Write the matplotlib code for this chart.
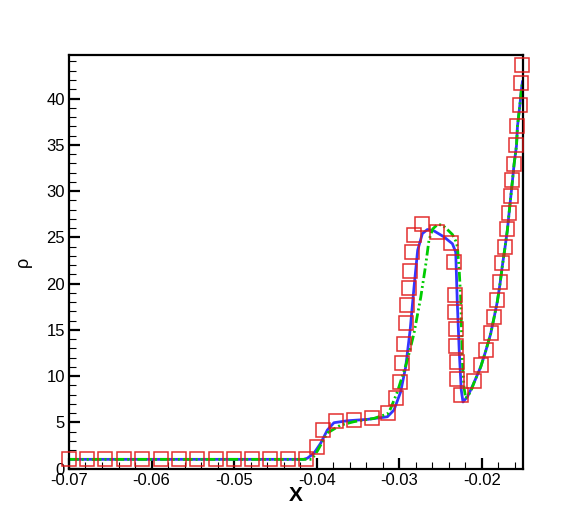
import matplotlib
matplotlib.use("Agg")
import matplotlib.pyplot as plt
from matplotlib.ticker import MultipleLocator

plt.rcParams['font.family'] = ['Liberation Sans', 'DejaVu Sans']
plt.rcParams['axes.unicode_minus'] = False
plt.rcParams['lines.scale_dashes'] = False

# reference data (squares)
ref_x = [-0.0700, -0.06779, -0.06558, -0.06336, -0.06113, -0.05891, -0.05669,
         -0.05446, -0.05224, -0.05006, -0.04788, -0.04570, -0.04348, -0.04133,
         -0.03992, -0.03924, -0.03770, -0.03548, -0.03333, -0.03131, -0.03042,
         -0.02994, -0.02961, -0.02942, -0.02921, -0.02901, -0.02885, -0.02864,
         -0.02848, -0.02821, -0.02719, -0.02537, -0.02367, -0.02336, -0.02327,
         -0.02319, -0.02315, -0.02307, -0.02303, -0.02295, -0.02255, -0.02093,
         -0.02012, -0.01952, -0.01891, -0.01851, -0.01810, -0.01778, -0.01749,
         -0.01718, -0.01689, -0.01669, -0.01648, -0.01628, -0.01608, -0.01579,
         -0.01567, -0.01539, -0.01519, -0.01507]
ref_rho = [1.0, 1.0, 1.0, 1.0, 1.0, 1.0, 1.0,
           1.0, 1.0, 1.0, 1.0, 1.0, 1.0, 1.0,
           2.37, 4.17, 5.14, 5.25, 5.43, 6.04, 7.66,
           9.38, 11.44, 13.42, 15.76, 17.64, 19.50, 21.37,
           23.36, 25.23, 26.49, 25.52, 24.33, 22.34, 18.75,
           16.94, 15.08, 13.27, 11.48, 9.71, 7.95, 9.49,
           11.19, 12.81, 14.68, 16.40, 18.21, 20.12, 22.17,
           23.96, 25.87, 27.63, 29.44, 31.17, 32.97, 34.95,
           37.00, 39.27, 41.72, 43.58]

# solid blue solution
blue_x = [-0.0700, -0.04158, -0.04113, -0.04033, -0.03952, -0.03870, -0.03790,
          -0.03628, -0.03385, -0.03143, -0.03063, -0.02982, -0.02921, -0.02867,
          -0.02818, -0.02776, -0.02719, -0.02658, -0.02578, -0.02457, -0.02355,
          -0.02315, -0.02297, -0.02273, -0.02248, -0.02227, -0.02173, -0.02093,
          -0.02012, -0.01952, -0.01891, -0.01851, -0.01810, -0.01778, -0.01749,
          -0.01718, -0.01689, -0.01669, -0.01648, -0.01628, -0.01608, -0.01579,
          -0.01567, -0.01539, -0.01519, -0.01507]
blue_rho = [1.0, 1.0, 1.12, 1.65, 2.73, 4.17, 4.96,
            5.17, 5.32, 5.6, 6.33, 8.3, 11.0, 15.0,
            19.8, 23.6, 25.4, 25.84, 25.69, 25.04, 24.3,
            23.4, 18.2, 12.8, 8.5, 7.2, 7.76, 9.3,
            11.0, 12.7, 14.6, 16.3, 18.1, 20.0, 22.0,
            23.9, 25.8, 27.6, 29.4, 31.1, 32.9, 34.9,
            37.0, 39.2, 41.0, 41.8]

# dash-dot-dot green solution
green_x = [-0.0700, -0.0406, -0.03991, -0.03870, -0.03709, -0.03548, -0.03305,
           -0.03143, -0.03103, -0.03022, -0.02901, -0.02821, -0.02739, -0.02679,
           -0.02639, -0.02594, -0.02533, -0.02473, -0.02412, -0.02355, -0.02315,
           -0.02295, -0.02275, -0.02255, -0.02246, -0.02234, -0.02215, -0.02194,
           -0.02133, -0.02093, -0.02012, -0.01952, -0.01891, -0.01851, -0.01810,
           -0.01778, -0.01749, -0.01718, -0.01689, -0.01669, -0.01648, -0.01628,
           -0.01608, -0.01579, -0.01567, -0.01539, -0.01519, -0.01507]
green_rho = [1.0, 1.0, 1.9, 3.85, 4.7, 5.07, 5.43,
             5.9, 6.5, 8.3, 11.7, 14.6, 18.5, 22.0,
             24.7, 25.9, 26.4, 26.3, 25.8, 25.3, 24.6,
             24.0, 21.8, 18.5, 15.3, 11.6, 8.8, 7.6,
             8.3, 9.3, 11.0, 12.7, 14.6, 16.3, 18.1,
             20.0, 22.0, 23.9, 25.8, 27.6, 29.4, 31.1,
             32.9, 34.9, 37.0, 39.2, 41.0, 41.8]

fig = plt.figure(figsize=(5.86, 5.19), dpi=100)
ax = fig.add_axes([0.1177, 0.0971, 0.7748, 0.7969])

ax.plot(blue_x, blue_rho, color='#3535ff', lw=2.0, zorder=2)
ax.plot(green_x, green_rho, color='#00cc00', lw=2.0,
        dashes=(7, 2.2, 1.4, 2.2, 1.4, 2.2), zorder=2.5)
ax.plot(ref_x, ref_rho, ls='none', marker='s', ms=9.5, mfc='none',
        mec='#e01818', mew=1.1, alpha=0.9, zorder=3, clip_on=False)

ax.set_xlim(-0.07, -0.015)
ax.set_ylim(0, 44.7)
ax.xaxis.set_major_locator(MultipleLocator(0.01))
ax.xaxis.set_minor_locator(MultipleLocator(0.002))
ax.yaxis.set_major_locator(MultipleLocator(5))
ax.yaxis.set_minor_locator(MultipleLocator(1))
ax.xaxis.set_major_formatter(plt.FuncFormatter(lambda v, p: '%.2f' % v))

ax.tick_params(which='both', direction='in', top=False, right=False, labelsize=12, pad=3)
ax.tick_params(which='major', length=8, width=1.6)
ax.tick_params(which='minor', length=5, width=0.8)
for s in ax.spines.values():
    s.set_linewidth(1.6)

ax.set_xlabel('X', fontsize=15, fontweight='bold', labelpad=-1)
ax.set_ylabel('ρ', fontsize=13, labelpad=10)

fig.savefig('out.png', dpi=100)
